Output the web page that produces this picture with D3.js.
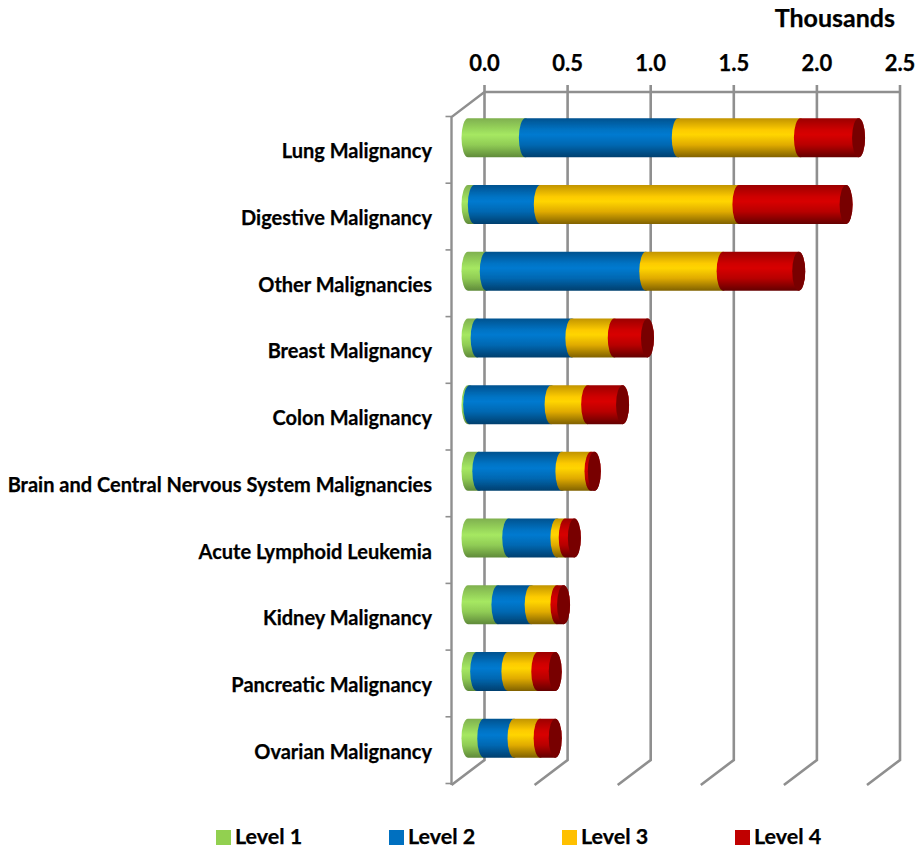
<!DOCTYPE html>
<html><head><meta charset="utf-8">
<script src="https://cdn.jsdelivr.net/npm/d3@7/dist/d3.min.js"></script>
<style>html,body{margin:0;padding:0;background:#fff}svg{display:block}text{font-family:Lato,"Open Sans",sans-serif;font-weight:700;fill:#000;stroke:#000;stroke-width:.25px}</style>
</head><body><div id="c"></div>
<script>
const categories=["Lung Malignancy","Digestive Malignancy","Other Malignancies","Breast Malignancy","Colon Malignancy","Brain and Central Nervous System Malignancies","Acute Lymphoid Leukemia","Kidney Malignancy","Pancreatic Malignancy","Ovarian Malignancy"];
const seriesNames=["Level 1","Level 2","Level 3","Level 4"];
const level1=[0.345,0.038,0.11,0.055,0.01,0.065,0.245,0.18,0.052,0.095];
const level2=[0.92,0.397,0.96,0.57,0.49,0.50,0.29,0.20,0.188,0.182];
const level3=[0.735,1.195,0.465,0.255,0.22,0.175,0.05,0.155,0.18,0.157];
const level4=[0.35,0.645,0.455,0.20,0.21,0.02,0.055,0.04,0.105,0.091];
const axisTicks=[0,0.5,1,1.5,2,2.5];
const palette=[
 {id:"g",stops:["#7fb04f","#9ad95c","#a6e862","#90cc55","#5f8a3a"],cap:"#6f9c46",key:"#92d050"},
 {id:"b",stops:["#00528f","#0073c4","#007ad0","#0068b2","#003f6e"],cap:"#004a80",key:"#0070c0"},
 {id:"y",stops:["#c29400","#fdcb00","#ffd500","#e0ab00","#806100"],cap:"#a07a00",key:"#ffc000"},
 {id:"r",stops:["#9c0000","#cf0000","#d80000","#b80000","#640000"],cap:"#780000",key:"#c00000"}];
const W=915,H=848,grey="#8f8f8f";
const svg=d3.select("#c").append("svg").attr("width",W).attr("height",H);
const defs=svg.append("defs");
palette.forEach(p=>{const g=defs.append("linearGradient").attr("id",p.id).attr("x1",0).attr("x2",0).attr("y1",0).attr("y2",1);
 [0,.3,.42,.68,1].forEach((o,i)=>g.append("stop").attr("offset",o).attr("stop-color",p.stops[i]));});
const soft=defs.append("filter").attr("id","soft");soft.append("feGaussianBlur").attr("stdDeviation",0.4);

const xBack=d3.scaleLinear().domain([0,2.5]).range([484.5,900]);
const dx=-33,dy=25,backTop=92,backBottom=760;
const xBar=d3.scaleLinear().domain([0,2.5]).range([484.5+dx/2,900+dx/2]);
const yBand=d3.scaleBand().domain(categories).range([116.5,783.5]);
const grid=svg.append("g").attr("stroke",grey).attr("fill","none").attr("stroke-width",2.6);
grid.selectAll(".v").data(axisTicks).join("path").attr("class","v")
 .attr("d",t=>`M${xBack(t)},${backTop-7}V${backBottom}l${dx},${dy}`);
grid.append("path").attr("d",`M${xBack(0)},${backTop}H${xBack(2.5)}`);
grid.append("path").attr("d",`M${xBack(0)},${backTop}l${dx},${dy}V${backBottom+dy}`).attr("stroke-width",2.4);
grid.selectAll(".t").data(d3.range(categories.length+1)).join("path").attr("class","t").attr("stroke-width",1.6)
 .attr("d",i=>`M${xBack(0)+dx-6},${116.5+i*yBand.step()}h6`);

const series=[level1,level2,level3,level4];
const rx=6.5,bh=39;
const bars=svg.append("g").attr("filter","url(#soft)");
categories.forEach((c,i)=>{
 const yt=yBand(c)+yBand.bandwidth()/2-bh/2+dy/2*-1+0.5, ry=bh/2;let cum=0;
 series.forEach((s,k)=>{
  const x0=xBar(cum);cum+=s[i];const x1=xBar(cum);
  bars.append("path").attr("fill",`url(#${palette[k].id})`)
   .attr("d",`M${x0},${yt}A${rx},${ry} 0 0 0 ${x0},${yt+bh}L${x1},${yt+bh}A${rx},${ry} 0 0 0 ${x1},${yt}Z`);
  if(k===3) bars.append("ellipse").attr("cx",x1).attr("cy",yt+ry).attr("rx",rx).attr("ry",ry).attr("fill",palette[k].cap);
 });
});
svg.selectAll(".cat").data(categories).join("text").attr("class","cat").attr("x",432).attr("text-anchor","end")
 .attr("y",c=>yBand(c)+yBand.bandwidth()/2+8.5).attr("font-size",20).text(c=>c);
svg.selectAll(".tk").data(axisTicks).join("text").attr("class","tk").attr("text-anchor","middle")
 .attr("x",t=>xBack(t)).attr("y",71).attr("font-size",22).text(d3.format(".1f"));
svg.append("text").attr("x",895).attr("y",27).attr("text-anchor","end").attr("font-size",25).text("Thousands");
const legX=d3.scalePoint().domain(seriesNames).range([216,735]);
seriesNames.forEach((n,k)=>{
 svg.append("rect").attr("x",legX(n)).attr("y",830).attr("width",15).attr("height",15).attr("fill",palette[k].key);
 svg.append("text").attr("x",legX(n)+19).attr("y",843.5).attr("font-size",21.5).text(n);
});
</script></body></html>
